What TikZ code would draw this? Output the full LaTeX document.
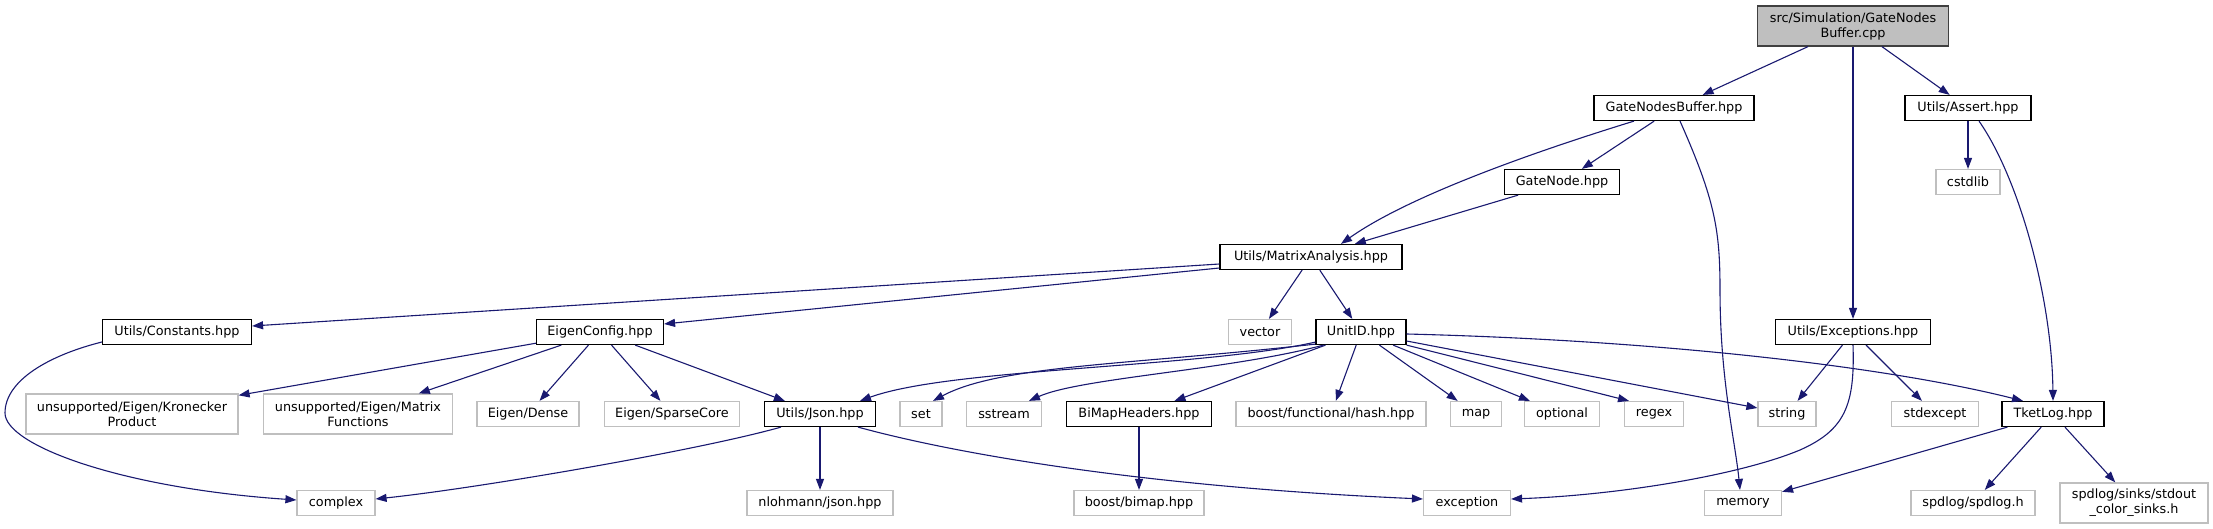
\documentclass[tikz,border=0pt]{standalone}
\usepackage{fontspec}
\setmainfont{DejaVu Sans}
\usetikzlibrary{arrows.meta,calc}
\definecolor{edgeblue}{HTML}{191970}
\definecolor{boxgrey}{HTML}{BFBFBF}
\definecolor{rootborder}{HTML}{404040}
\tikzset{
  every node/.style={font=\fontsize{12.8}{15}\selectfont, inner sep=0pt, anchor=center},
  proj/.style={draw=black, line width=1.2pt, minimum height=25pt, fill=white},
  sys/.style={draw=boxgrey, line width=1.2pt, minimum height=25pt, fill=white},
  sys2/.style={sys, minimum height=40pt, align=center},
  rootbox/.style={draw=rootborder, fill=boxgrey, line width=1.2pt, minimum height=40pt, align=center},
  e/.style={draw=edgeblue, line width=1.1pt, -{Triangle[length=11pt,width=8pt]}},
}
\begin{document}
\begin{tikzpicture}[x=1pt,y=-1pt]
\useasboundingbox (0,0) rectangle (2213,529);
% row 0
\node[rootbox, minimum width=191pt] (root) at (1853,26) {src/Simulation/GateNodes\\Buffer.cpp};
% row 1
\node[proj, minimum width=160pt] (gnb) at (1674,108) {GateNodesBuffer.hpp};
\node[proj, minimum width=126pt] (assert) at (1968,108) {Utils/Assert.hpp};
% row 2
\node[proj, minimum width=115pt] (gatenode) at (1562,182) {GateNode.hpp};
\node[sys, minimum width=64pt] (cstdlib) at (1968,182) {cstdlib};
% row 3
\node[proj, minimum width=182pt] (matrix) at (1311,257) {Utils/MatrixAnalysis.hpp};
% row 4
\node[proj, minimum width=149pt] (constants) at (177,332) {Utils/Constants.hpp};
\node[proj, minimum width=127pt] (eigen) at (600,332) {EigenConfig.hpp};
\node[sys, minimum width=63pt] (vector) at (1260,332) {vector};
\node[proj, minimum width=90pt] (unitid) at (1361,332) {UnitID.hpp};
\node[proj, minimum width=155pt] (exceptions) at (1853,332) {Utils/Exceptions.hpp};
% row 5
\node[sys2, minimum width=212pt] (kron) at (132,414) {unsupported/Eigen/Kronecker\\Product};
\node[sys2, minimum width=189pt] (matfun) at (358,414) {unsupported/Eigen/Matrix\\Functions};
\node[sys, minimum width=102pt] (dense) at (528,414) {Eigen/Dense};
\node[sys, minimum width=135pt] (sparse) at (672,414) {Eigen/SparseCore};
\node[proj, minimum width=111pt] (json) at (820,414) {Utils/Json.hpp};
\node[sys, minimum width=42pt] (set) at (921,414) {set};
\node[sys, minimum width=75pt] (sstream) at (1004,414) {sstream};
\node[proj, minimum width=145pt] (bimaph) at (1139,414) {BiMapHeaders.hpp};
\node[sys, minimum width=190pt] (hash) at (1331,414) {boost/functional/hash.hpp};
\node[sys, minimum width=51pt] (map) at (1476,414) {map};
\node[sys, minimum width=75pt] (optional) at (1562,414) {optional};
\node[sys, minimum width=59pt] (regex) at (1654,414) {regex};
\node[sys, minimum width=58pt] (string) at (1787,414) {string};
\node[sys, minimum width=87pt] (stdexcept) at (1935,414) {stdexcept};
\node[proj, minimum width=102pt] (tketlog) at (2053,414) {TketLog.hpp};
% row 6
\node[sys, minimum width=78pt] (complex) at (336,503) {complex};
\node[sys, minimum width=146pt] (nlohmann) at (820,503) {nlohmann/json.hpp};
\node[sys, minimum width=130pt] (bimap) at (1139,503) {boost/bimap.hpp};
\node[sys, minimum width=87pt] (exception) at (1467,503) {exception};
\node[sys, minimum width=77pt] (memory) at (1743,503) {memory};
\node[sys, minimum width=124pt] (spdlog) at (1973,503) {spdlog/spdlog.h};
\node[sys2, minimum width=148pt] (sinks) at (2134,503) {spdlog/sinks/stdout\\\_color\_sinks.h};

% edges
\draw[e] (root) -- (gnb);
\draw[e] (root) -- (assert);
\draw[e] (root) -- (exceptions);
\draw[e] (gnb) -- (gatenode);
\draw[e] ($(gnb.south)+(-40,0)$) .. controls (1540,150) and (1410,195) .. ($(matrix.north)+(30,0)$);
\draw[e] ($(gnb.south)+(6,0)$) .. controls (1715,200) and (1720,230) .. (1720,290) .. controls (1720,380) and (1735,440) .. ($(memory.north)+(-3,0)$);
\draw[e] (gatenode) -- (matrix);
\draw[e] (assert) -- (cstdlib);
\draw[e] ($(assert.south)+(11,0)$) .. controls (2020,180) and (2052,300) .. (tketlog.north);

\draw[e] ($(matrix.west)+(0,7)$) -- ($(constants.east)+(0,-6)$);
\draw[e] ($(matrix.west)+(0,11)$) -- ($(eigen.east)+(0,-8)$);
\draw[e] (matrix) -- (vector);
\draw[e] (matrix) -- (unitid);

\draw[e] ($(constants.west)+(0,10)$) .. controls (50,355) and (5,380) .. (5,413) .. controls (5,445) and (120,488) .. ($(complex.west)+(0,-3)$);

\draw[e] (eigen) -- (kron);
\draw[e] (eigen) -- (matfun);
\draw[e] (eigen) -- (dense);
\draw[e] (eigen) -- (sparse);
\draw[e] (eigen) -- (json);

\draw[e] ($(json.south)+(-39,0)$) .. controls (700,450) and (480,488) .. ($(complex.east)+(0,-4)$);
\draw[e] (json) -- (nlohmann);
\draw[e] ($(json.south)+(38,0)$) .. controls (960,455) and (1150,487) .. ($(exception.west)+(0,-4)$);

\draw[e] ($(unitid.south west)+(0,-3)$) .. controls (1200,368) and (950,368) .. ($(json.north)+(40,0)$);
\draw[e] ($(unitid.south west)+(0,-1)$) .. controls (1130,365) and (1000,365) .. ($(set.north)+(12,0)$);
\draw[e] ($(unitid.south west)+(8,0)$) .. controls (1230,370) and (1080,378) .. ($(sstream.north)+(25,0)$);
\draw[e] (unitid) -- (bimaph);
\draw[e] (unitid) -- (hash);
\draw[e] (unitid) -- (map);
\draw[e] (unitid) -- (optional);
\draw[e] (unitid.south east) -- ($(regex.north)+(-25,0)$);
\draw[e] ($(unitid.east)+(0,9)$) -- ($(string.west)+(0,-6)$);
\draw[e] ($(unitid.east)+(0,2)$) .. controls (1650,340) and (1880,365) .. ($(tketlog.north)+(-30,0)$);

\draw[e] (exceptions) -- (string);
\draw[e] (exceptions) -- (stdexcept);
\draw[e] (exceptions.south) .. controls (1855,405) and (1845,430) .. (1800,450) .. controls (1740,475) and (1620,495) .. ($(exception.east)+(0,-4)$);

\draw[e] (tketlog) -- (memory);
\draw[e] (tketlog) -- (spdlog);
\draw[e] (tketlog) -- (sinks);
\draw[e] (bimaph) -- (bimap);
\end{tikzpicture}
\end{document}
